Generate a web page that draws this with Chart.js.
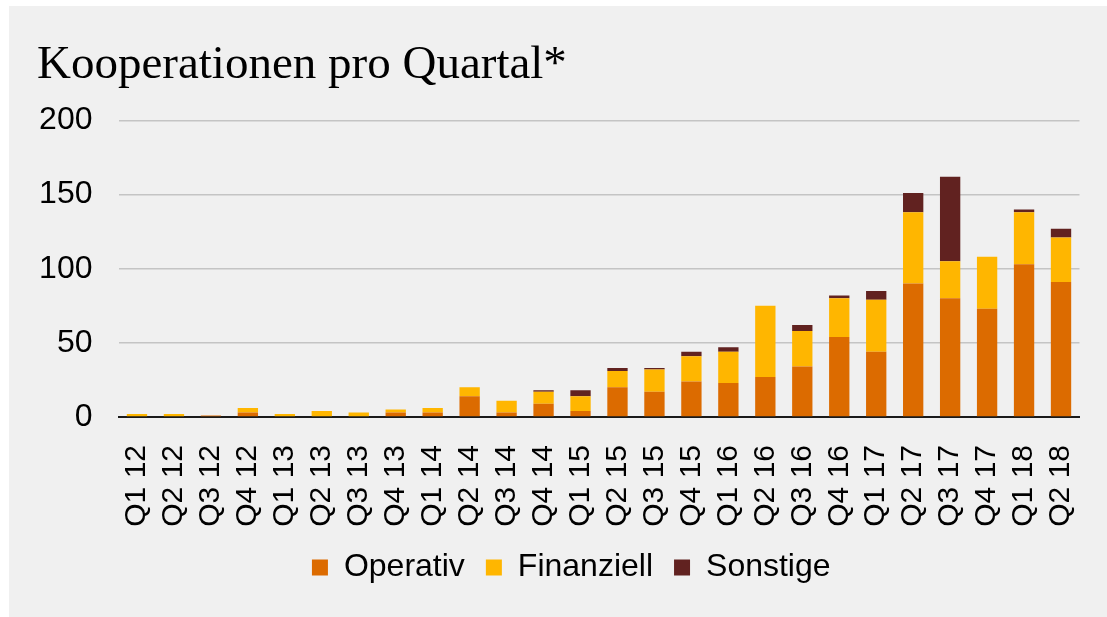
<!DOCTYPE html>
<html>
<head>
<meta charset="utf-8">
<script src="https://cdn.jsdelivr.net/npm/chart.js@4/dist/chart.umd.min.js"></script>
<style>
    html, body { margin: 0; padding: 0; background: #fff; overflow: hidden; }
    .panel {
        position: absolute;
        left: 9px;
        top: 6px;
        width: 1098px;
        height: 611px;
        background: #f0f0f0;
    }
    canvas { display: block; }
</style>
</head>
<body>
<div class="panel">
    <canvas id="myChart" width="1098" height="611"></canvas>
</div>
<script>
// data
const quarters = [
    'Q1 12', 'Q2 12', 'Q3 12', 'Q4 12',
    'Q1 13', 'Q2 13', 'Q3 13', 'Q4 13',
    'Q1 14', 'Q2 14', 'Q3 14', 'Q4 14',
    'Q1 15', 'Q2 15', 'Q3 15', 'Q4 15',
    'Q1 16', 'Q2 16', 'Q3 16', 'Q4 16',
    'Q1 17', 'Q2 17', 'Q3 17', 'Q4 17',
    'Q1 18', 'Q2 18'
];
const operativ   = [0, 0, 1, 3, 0, 0, 0, 3, 3, 14, 3, 9, 4, 20, 17, 24, 23, 27, 34, 54, 44, 90, 80, 73, 103, 91];
const finanziell = [2, 2, 0, 3, 2, 4, 3, 2, 3, 6, 8, 8, 10, 11, 15, 17, 21, 48, 24, 26, 35, 48, 25, 35, 35, 30];
const sonstige   = [0, 0, 0, 0, 0, 0, 0, 0, 0, 0, 0, 1, 4, 2, 1, 3, 3, 0, 4, 2, 6, 13, 57, 0, 2, 6];
const yTicks = [0, 50, 100, 150, 200];

const sans = '"Liberation Sans", Arial, sans-serif';

const bar = (label, data, color) => ({
    label: label,
    data: data,
    backgroundColor: color,
    borderWidth: 0,
    barPercentage: 0.55,
    categoryPercentage: 1
});

// legend sits a bit right of the canvas centre in the original
const legendShift = {
    id: 'legendShift',
    afterLayout(chart) {
        chart.legend.left += 13;
        chart.legend.right += 13;
    }
};

new Chart(document.getElementById('myChart'), {
    type: 'bar',
    data: {
        labels: quarters,
        datasets: [
            bar('Operativ', operativ, '#dc6b00'),
            bar('Finanziell', finanziell, '#ffb600'),
            bar('Sonstige', sonstige, '#612220')
        ]
    },
    plugins: [legendShift],
    options: {
        responsive: false,
        animation: false,
        layout: { padding: { left: 28, right: 27.5, top: 0, bottom: 23.5 } },
        plugins: {
            title: {
                display: true,
                text: 'Kooperationen pro Quartal*',
                align: 'start',
                color: '#000',
                font: { family: '"Liberation Serif", "Times New Roman", serif', size: 47, weight: 'normal' },
                padding: { top: 31, bottom: 27 }
            },
            legend: {
                position: 'bottom',
                labels: {
                    color: '#000',
                    font: { family: sans, size: 32 },
                    boxWidth: 16,
                    boxHeight: 16,
                    padding: 21
                }
            },
            tooltip: { enabled: false }
        },
        scales: {
            x: {
                stacked: true,
                afterFit: (scale) => {
                    scale.height = 113.5;
                    scale.paddingLeft = 0;
                    scale.paddingRight = 0;
                },
                grid: { display: false },
                border: { display: true, color: '#1a1a1a', width: 2 },
                ticks: {
                    color: '#000',
                    font: { family: sans, size: 30 },
                    minRotation: 90,
                    maxRotation: 90,
                    autoSkip: false,
                    padding: 20
                }
            },
            y: {
                stacked: true,
                min: 0,
                max: 200,
                afterBuildTicks: (scale) => {
                    scale.ticks = yTicks.map(v => ({ value: v }));
                },
                afterFit: (scale) => {
                    scale.width = 81.5;
                },
                grid: { color: '#c4c4c4', lineWidth: 1.5, drawTicks: false },
                border: { display: false },
                ticks: {
                    color: '#000',
                    font: { family: sans, size: 32 },
                    padding: 26
                }
            }
        }
    }
});
</script>
</body>
</html>
